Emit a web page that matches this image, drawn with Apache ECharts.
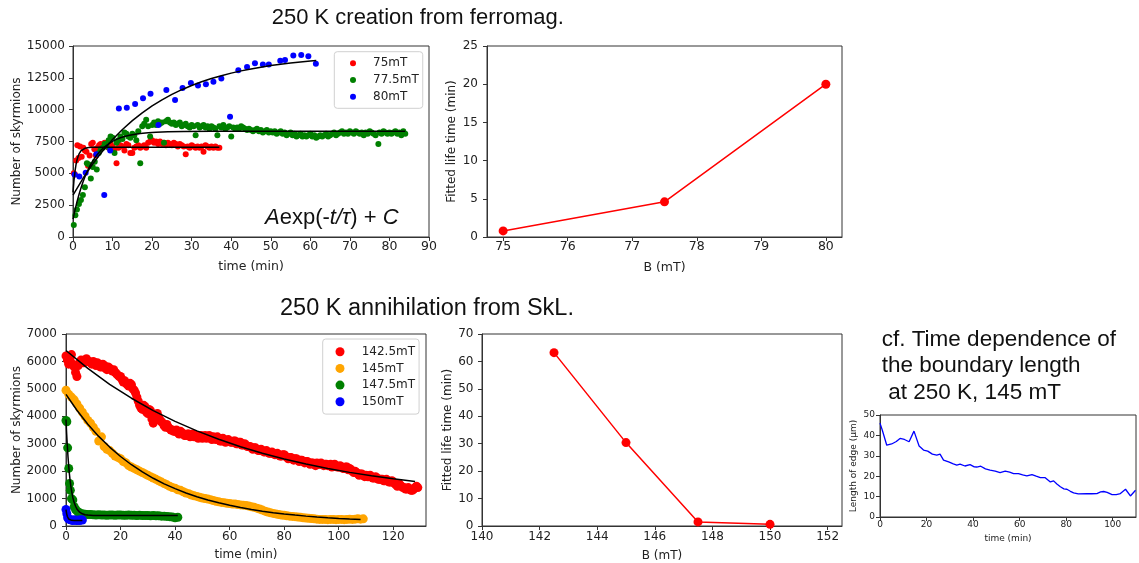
<!DOCTYPE html>
<html><head><meta charset="utf-8">
<script src="https://cdn.jsdelivr.net/npm/echarts@6/dist/echarts.min.js"></script>
<style>html,body{margin:0;padding:0;background:#fff}#c{width:1139px;height:563px}</style>
</head><body><div id="c"></div>
<script>
// ---------- Top-left: creation from ferromag. (time min, number of skyrmions) ----------
const c75 = [[0.2,5000],[0.5,4900],[0.8,6000],[1.1,7200],[1.4,6200],[1.8,7100],[2.2,6300],[2.6,7000],[3.0,6800],[3.4,6700],[3.8,5600],[4.2,6400],[4.6,7300],[5.0,7400],[5.4,6900],[5.8,6400],[6.2,7000],[6.6,7200],[7.0,7300],[7.5,7100],[8.0,7400],[8.5,7200],[9.0,7000],[9.5,7300],[10.0,7100],[10.5,6900],[11.0,5800],[11.5,7000],[12.0,7200],[12.5,7100],[13.0,6800],[13.5,7300],[14.0,7200],[14.5,6600],[15.0,6600],[15.5,7000],[16.0,7100],[16.5,7200],[17.0,7000],[17.5,7100],[18.0,7200],[18.5,7000],[19.0,7400],[19.5,7500],[20.0,7600],[20.5,7400],[21.0,7500],[21.5,7300],[22.0,7500],[22.5,7300],[23.0,7400],[23.5,7200],[24.0,7400],[24.5,7300],[25.0,7200],[25.5,7400],[26.0,7300],[26.5,7100],[27.0,7300],[27.5,7200],[28.0,7100],[28.5,6500],[29.0,7100],[29.5,7000],[30.0,7200],[30.5,7100],[31.0,7000],[31.5,7100],[32.0,7000],[32.5,7100],[33.0,6700],[33.5,7200],[34.0,7100],[34.5,7000],[35.0,7100],[35.5,7000],[36.0,7100],[36.5,7000],[37.0,7000]];
const c775 = [[0.2,950],[0.6,1700],[1.0,2150],[1.5,2600],[2.0,2900],[2.5,3300],[3.0,3900],[3.5,5800],[4.0,5700],[4.5,4600],[5.0,5500],[5.5,5900],[6.0,5300],[6.5,6600],[7.0,6900],[7.5,7000],[8.0,7300],[8.5,7100],[9.0,7600],[9.5,7900],[10.0,7800],[10.5,6600],[11.0,7400],[11.5,7600],[12.0,7900],[12.5,7700],[13.0,8200],[13.5,8100],[14.0,7900],[14.5,7800],[15.0,8100],[15.5,8000],[16.0,7600],[16.5,8300],[17.0,5800],[17.5,8700],[18.0,8900],[18.5,9200],[19.0,8700],[19.5,7900],[20.0,8800],
[20.5,9000],[21.0,8800],[21.5,9100],[22.0,8900],[22.5,9000],[23.0,7400],[23.5,9100],[24.0,9200],[24.5,9000],[25.0,8900],[25.5,9000],[26.0,8800],[26.5,8900],[27.0,9000],[27.5,8700],[28.0,8800],[28.5,8900],[29.0,8700],[29.5,8600],[30.0,8800],
[30.5,8700],[31.0,8000],[31.5,8800],[32.0,8600],[32.5,8700],[33.0,8800],[33.5,8600],[34.0,8700],[34.5,8500],[35.0,8700],[35.5,8600],[36.0,8500],[36.5,8000],[37.0,8700],[37.5,8600],[38.0,8800],[38.5,8500],[39.0,8600],[39.5,8700],[40.0,7900],
[40.5,8600],[41.0,8500],[41.5,8600],[42.0,8500],[42.5,8700],[43.0,8600],[43.5,8500],[44.0,8400],[44.5,8500],[45.0,8400],[45.5,8300],[46.0,8400],[46.5,8500],[47.0,8300],[47.5,8400],[48.0,8200],[48.5,8300],[49.0,8400],[49.5,8200],[50.0,8300],
[50.5,8200],[51.0,8300],[51.5,8100],[52.0,8200],[52.5,8300],[53.0,8100],[53.5,8200],[54.0,8000],[54.5,8100],[55.0,8200],[55.5,8000],[56.0,8100],[56.5,7900],[57.0,8000],[57.5,8100],[58.0,7900],[58.5,8000],[59.0,7900],[59.5,8000],[60.0,8100],
[60.5,7900],[61.0,8000],[61.5,7800],[62.0,7900],[62.5,8000],[63.0,7900],[63.5,8000],[64.0,8100],[64.5,7900],[65.0,8000],[65.5,8100],[66.0,8200],[66.5,8000],[67.0,8100],[67.5,8200],[68.0,8300],[68.5,8100],[69.0,8200],[69.5,8100],[70.0,8300],
[70.5,8200],[71.0,8100],[71.5,8300],[72.0,8200],[72.5,8100],[73.0,8200],[73.5,8000],[74.0,8200],[74.5,8100],[75.0,8300],[75.5,8200],[76.0,8100],[76.5,8000],[77.2,7300],[77.5,8200],[78.0,8100],[78.5,8300],[79.0,8200],[79.5,8100],[80.0,8200],
[80.5,8100],[81.0,8200],[81.5,8300],[82.0,8100],[82.5,8200],[83.0,8000],[83.5,8300],[84.0,8100]];
const c80 = [[0.4,4900],[1.6,4750],[3.2,5050],[5.9,6500],[7.9,3300],[9.4,6800],[11.6,10100],[13.6,10150],[15.7,10450],[17.7,10900],[19.6,11250],[21.6,8800],[23.6,11550],[25.8,10750],[27.7,11700],[29.8,12100],[31.6,11900],[33.6,12000],[35.5,12200],[37.5,12450],[39.7,9450],[41.8,13100],[44.0,13350],[46.0,13650],[48.0,13550],[49.5,13550],[52.4,13850],[53.6,13900],[55.7,14250],[57.7,14300],[59.5,14200],[61.4,13600]];
// fitted curves A exp(-t/tau) + C
const fit75 = [[0,3500],[0.25,4453],[0.5,5150],[0.75,5660],[1,6033],[1.25,6306],[1.5,6505],[1.75,6652],[2,6759],[2.5,6894],[3,6967],[3.5,7005],[4,7026],[5,7043],[6,7048],[37,7050]];
const fit775 = [[0,1400],[0.5,2111],[1,2748],[1.5,3320],[2,3834],[2.5,4293],[3,4706],[3.5,5076],[4,5408],[4.5,5706],[5,5973],[6,6428],[7,6794],[8,7088],[9,7324],[10,7515],[11,7669],[12,7792],[13,7891],[14,7971],[15,8035],[17,8129],[19,8189],[21,8228],[24,8263],[28,8284],[35,8297],[84,8300]];
const fit80 = [[0,3290],[2.5,4592],[5,5741],[7.5,6755],[10,7650],[12.5,8439],[15,9136],[17.5,9751],[20,10294],[22.5,10772],[25,11196],[27.5,11569],[30,11898],[32.5,12188],[35,12444],[37.5,12670],[40,12871],[42.5,13047],[45,13202],[47.5,13339],[50,13460],[52.5,13568],[55,13662],[57.5,13745],[60,13818],[61.5,13858]];

// ---------- Top-right: fitted life time vs B ----------
const topB = [75, 77.5, 80];
const topTau = [0.8, 4.6, 20.0];

// ---------- Bottom-left: annihilation from SkL. ----------
const a1425V = [6200,5900,6250,5800,5450,5950,6000,6050,6000,5950,6000,5850,5900,5800,5850,5700,5750,5650,5600,5500,5450,5250,5200,5100,5150,4950,4700,4400,4250,4350,4100,4200,3750,4050,3950,3800,3650,3700,3550,3500,3450,3400,3450,3350,3300,3350,3300,3250,3300,3250,3200,3300,3250,3200,3250,3150,3200,3100,3150,3100,3100,3050,3100,3000,3050,2950,2950,2900,2850,2850,2800,2750,2750,2700,2700,2650,2650,2600,2600,2550,2600,2500,2500,2450,2450,2400,2400,2350,2350,2300,2300,2250,2300,2250,2250,2250,2200,2250,2200,2200,2150,2150,2100,2150,2100,2000,2000,1900,1900,1850,1850,1800,1800,1750,1750,1700,1700,1650,1650,1600,1600,1500,1550,1450,1400,1350,1350,1300,1400,1400];
const a1425T = [0,1,2,3,4,5,6,7,8,9,10,11,12,13,14,15,16,17,18,19,20,21,22,23,24,25,26,27,28,29,30,31,32,33,34,35,36,37,38,39,40,41,42,43,44,45,46,47,48,49,50,51,52,53,54,55,56,57,58,59,60,61,62,63,64,65,66,67,68,69,70,71,72,73,74,75,76,77,78,79,80,81,82,83,84,85,86,87,88,89,90,91,92,93,94,95,96,97,98,99,100,101,102,103,104,105,106,107,108,109,110,111,112,113,114,115,116,117,118,119,120,121,122,123,124,125,126,127,128,129];
const a1425HV = [6050,6100,5900,5600,5850,6050,5950,6100,6000,5900,5950,5950,5800,5900,5750,5800,5700,5700,5550,5450,5350,5300,5150,5200,5000,4850,4550,4300,4400,4150,4250,3900,3950,4100,3850,3750,3600,3600,3500,3450,3500,3350,3400,3300,3350,3250,3350,3300,3200,3300,3250,3200,3300,3150,3200,3250,3100,3200,3050,3150,3050,3100,3000,3050,2950,3000,2900,2900,2800,2850,2750,2800,2700,2750,2650,2700,2600,2650,2550,2600,2550,2450,2500,2400,2450,2350,2400,2300,2350,2250,2300,2200,2250,2300,2200,2250,2200,2150,2250,2150,2200,2100,2150,2050,2050,1950,1950,1850,1900,1800,1800,1850,1750,1800,1700,1700,1650,1700,1600,1650,1550,1450,1500,1400,1350,1400,1300,1350,1450];
const a1425HT = [0.5,1.5,2.5,3.5,4.5,5.5,6.5,7.5,8.5,9.5,10.5,11.5,12.5,13.5,14.5,15.5,16.5,17.5,18.5,19.5,20.5,21.5,22.5,23.5,24.5,25.5,26.5,27.5,28.5,29.5,30.5,31.5,32.5,33.5,34.5,35.5,36.5,37.5,38.5,39.5,40.5,41.5,42.5,43.5,44.5,45.5,46.5,47.5,48.5,49.5,50.5,51.5,52.5,53.5,54.5,55.5,56.5,57.5,58.5,59.5,60.5,61.5,62.5,63.5,64.5,65.5,66.5,67.5,68.5,69.5,70.5,71.5,72.5,73.5,74.5,75.5,76.5,77.5,78.5,79.5,80.5,81.5,82.5,83.5,84.5,85.5,86.5,87.5,88.5,89.5,90.5,91.5,92.5,93.5,94.5,95.5,96.5,97.5,98.5,99.5,100.5,101.5,102.5,103.5,104.5,105.5,106.5,107.5,108.5,109.5,110.5,111.5,112.5,113.5,114.5,115.5,116.5,117.5,118.5,119.5,120.5,121.5,122.5,123.5,124.5,125.5,126.5,127.5,128.5];
const a145V = [4950,4800,4700,4600,4450,4300,4150,4000,3850,3750,3600,3450,3100,3250,2900,2800,2750,2650,2550,2500,2450,2350,2300,2200,2150,2100,2050,2000,1950,1900,1850,1800,1750,1700,1650,1600,1550,1500,1450,1400,1380,1320,1300,1250,1200,1180,1130,1100,1080,1050,1020,1000,980,960,930,900,880,860,850,830,820,800,800,780,770,760,750,730,700,680,650,620,580,540,510,480,460,440,420,400,390,370,360,350,340,330,320,300,290,280,270,260,250,240,240,240,230,240,240,230,240,240,230,240,250,240,250,260,250,260];
const a145T = [0,1,2,3,4,5,6,7,8,9,10,11,12,13,14,15,16,17,18,19,20,21,22,23,24,25,26,27,28,29,30,31,32,33,34,35,36,37,38,39,40,41,42,43,44,45,46,47,48,49,50,51,52,53,54,55,56,57,58,59,60,61,62,63,64,65,66,67,68,69,70,71,72,73,74,75,76,77,78,79,80,81,82,83,84,85,86,87,88,89,90,91,92,93,94,95,96,97,98,99,100,101,102,103,104,105,106,107,108,109];
const a1475 = [[0,3850],[0.3,3800],[0.6,2850],[1.0,2100],[1.3,1550],[1.6,1300],[2.0,1000],[2.5,950],[3.0,700],[3.5,600],[4.0,550],[4.5,500],[5,480],[6,450],[7,430],[8,420],[9,420],[10,410],[11,400],[12,410],[13,400],[14,400],[15,390],[16,400],[17,400],[18,390],[19,400],[20,400],[21,390],[22,390],[23,400],[24,390],[25,390],[26,380],[27,390],[28,380],[29,380],[30,380],[31,370],[32,380],[33,370],[34,370],[35,360],[36,360],[37,350],[38,340],[39,330],[40,300],[41,320]];
const a150 = [[0,600],[0.3,450],[0.6,300],[1,250],[1.5,230],[2,220],[2.5,200],[3,230],[3.5,210],[4,200],[4.5,220],[5,200],[5.5,230],[6,220]];
const fit1425 = [[0,6400],[8,5744],[16,5166],[24,4658],[32,4209],[40,3815],[48,3467],[56,3161],[64,2892],[72,2654],[80,2445],[88,2261],[96,2098],[104,1955],[112,1830],[120,1719],[128,1621]];
const fit145 = [[0,4800],[4,4220],[8,3712],[12,3267],[16,2877],[20,2534],[24,2234],[28,1971],[32,1740],[36,1538],[40,1361],[44,1205],[48,1069],[52,950],[56,845],[60,753],[64,673],[68,602],[72,540],[76,486],[80,438],[84,397],[88,360],[92,328],[96,300],[100,275],[104,254],[108,235]];
const fit1475 = [[0,3880],[0.25,3343],[0.5,2888],[0.75,2503],[1,2177],[1.25,1901],[1.5,1668],[1.75,1470],[2,1303],[2.5,1041],[3,854],[3.5,720],[4,623],[4.5,554],[5,505],[6,444],[7,413],[8,397],[10,384],[41,380]];
const fit150 = [[0,600],[0.25,443],[0.5,347],[0.75,289],[1,254],[1.5,220],[2,207],[3,201],[6,200]];

// ---------- Bottom-middle: fitted life time vs B ----------
const botB = [142.5, 145, 147.5, 150];
const botTau = [63.2, 30.4, 1.5, 0.6];

// ---------- Bottom-right: boundary length ----------
const edge = [[0,46],[1,42.5],[2.9,35.2],[5,35.8],[7,37],[8.6,38.5],[10.5,38],[12.5,36.9],[14.6,42.1],[16.8,34.8],[18.7,32.8],[20.5,32.3],[22.5,30.8],[24.4,30.3],[25.8,30.8],[27.3,27.9],[29.5,27],[31.5,26],[33,25.4],[34.4,25.9],[36.5,25],[38.7,25.7],[40.5,24.6],[41.6,24.5],[43.3,24.9],[45.3,23.6],[47.3,23],[49.5,22.5],[51.6,21.8],[53.8,22.5],[55.7,22],[57.4,21.3],[59.5,21.3],[61.3,20.7],[63.1,20.2],[65.3,20.8],[67.1,20],[68.9,19.3],[71,19.3],[73.2,17.2],[74.6,17.7],[76,16.2],[77.5,14.8],[79,13.8],[80.3,13.6],[81.8,12.6],[83.2,11.8],[85.2,11.3],[88.9,11.5],[91,11.4],[93.2,11.5],[94.8,12.3],[96.1,12.5],[97.6,12.1],[99.7,11],[101.5,11],[103.3,11.5],[105.5,13.6],[107.6,10.3],[109.8,13.1]];

// tick values
const ticksTL_x = [0,10,20,30,40,50,60,70,80,90];
const ticksTL_y = [0,2500,5000,7500,10000,12500,15000];
const ticksTR_x = [75,76,77,78,79,80];
const ticksTR_y = [0,5,10,15,20,25];
const ticksBL_x = [0,20,40,60,80,100,120];
const ticksBL_y = [0,1000,2000,3000,4000,5000,6000,7000];
const ticksBM_x = [140,142,144,146,148,150,152];
const ticksBM_y = [0,10,20,30,40,50,60,70];
const ticksBR_x = [0,20,40,60,80,100];
const ticksBR_y = [0,10,20,30,40,50];

const FONT = 'DejaVu Sans';
const TXT = '#222';
function ax(gi, min, max, ticks, name, fs, gap, margin) {
  return {
    type: 'value', gridIndex: gi, min: min, max: max,
    name: name, nameLocation: 'middle', nameGap: gap,
    nameTextStyle: {fontFamily: FONT, fontSize: fs, color: TXT},
    axisLine: {show: true, onZero: false, lineStyle: {color: '#333', width: 1}},
    axisTick: {show: true, length: 4, customValues: ticks, lineStyle: {color: '#333'}},
    axisLabel: {customValues: ticks, fontFamily: FONT, fontSize: fs, color: TXT, margin: margin,
      formatter: function (v) { return String(v); }},
    splitLine: {show: false}
  };
}
const pair = (T, V) => T.map((t, i) => [t, V[i]]);
const zip = (X, Y) => X.map((x, i) => [x, Y[i]]);

function sc(name, data, color, size, xi) {
  return {type: 'scatter', name: name, data: data, xAxisIndex: xi, yAxisIndex: xi, symbol: 'circle', symbolSize: size,
    itemStyle: {color: color, opacity: 1}, z: 2, silent: true};
}
function fit(name, data, xi) {
  return {type: 'line', name: name, data: data, xAxisIndex: xi, yAxisIndex: xi, showSymbol: false, smooth: false,
    lineStyle: {color: '#000', width: 1.5}, z: 5, silent: true};
}

const chart = echarts.init(document.getElementById('c'), null, {renderer: 'canvas'});
const grid = {show: true, borderColor: '#333', borderWidth: 1, backgroundColor: 'transparent'};
chart.setOption({
  animation: false,
  backgroundColor: '#fff',
  grid: [
    Object.assign({left: 73, top: 46, width: 356, height: 191}, grid),
    Object.assign({left: 487, top: 46, width: 355, height: 191}, grid),
    Object.assign({left: 66, top: 334, width: 360, height: 192}, grid),
    Object.assign({left: 482, top: 334, width: 360, height: 192}, grid),
    Object.assign({left: 880, top: 415, width: 256, height: 102}, grid)
  ],
  xAxis: [
    ax(0, 0, 90, ticksTL_x, 'time (min)', 12.5, 23, 3.5),
    ax(1, 74.75, 80.25, ticksTR_x, 'B (mT)', 12.5, 24, 3.5),
    ax(2, 0, 132, ticksBL_x, 'time (min)', 12, 23, 4.5),
    ax(3, 140, 152.5, ticksBM_x, 'B (mT)', 12, 24, 5),
    ax(4, 0, 110, ticksBR_x, 'time (min)', 9, 17, 3)
  ],
  yAxis: [
    ax(0, 0, 15000, ticksTL_y, 'Number of skyrmions', 12, 49, 8),
    ax(1, 0, 25, ticksTR_y, 'Fitted life time (min)', 12, 29, 9),
    ax(2, 0, 7000, ticksBL_y, 'Number of skyrmions', 12, 43, 9),
    ax(3, 0, 70, ticksBM_y, 'Fitted life time (min)', 12, 27, 8.5),
    ax(4, 0, 50, ticksBR_y, 'Length of edge (μm)', 9, 22, 5)
  ],
  legend: [
    {data: ['75mT', '77.5mT', '80mT'], orient: 'vertical', left: 334.3, top: 51.7,
     padding: [5.6, 4, 5.6, 15.7], itemWidth: 30, itemHeight: 6, itemGap: 4.7, icon: 'circle',
     textStyle: {fontFamily: FONT, fontSize: 12, lineHeight: 12, color: TXT},
     borderColor: '#d0d0d0', borderWidth: 1, borderRadius: 3, backgroundColor: 'rgba(255,255,255,0.8)', selectedMode: false},
    {data: ['142.5mT', '145mT', '147.5mT', '150mT'], orient: 'vertical', left: 322.7, top: 339,
     padding: [6.7, 4, 6.3, 12.8], itemWidth: 33.4, itemHeight: 9, itemGap: 4.7, icon: 'circle',
     textStyle: {fontFamily: FONT, fontSize: 12, lineHeight: 12, color: TXT},
     borderColor: '#d0d0d0', borderWidth: 1, borderRadius: 3, backgroundColor: 'rgba(255,255,255,0.8)', selectedMode: false}
  ],
  series: [
    sc('75mT', c75, '#ff0000', 6, 0),
    sc('77.5mT', c775, '#008000', 6, 0),
    sc('80mT', c80, '#0000ff', 6, 0),
    fit('fit75', fit75, 0), fit('fit775', fit775, 0), fit('fit80', fit80, 0),
    {type: 'line', name: 'tauTop', data: zip(topB, topTau), xAxisIndex: 1, yAxisIndex: 1, symbol: 'circle', symbolSize: 9, showSymbol: true,
     lineStyle: {color: '#ff0000', width: 1.5}, itemStyle: {color: '#ff0000', borderWidth: 0}, silent: true},
    sc('142.5mT', pair(a1425T, a1425V).concat(pair(a1425HT, a1425HV)), '#ff0000', 9, 2),
    sc('145mT', pair(a145T, a145V), '#ffa500', 9, 2),
    sc('147.5mT', a1475, '#008000', 9, 2),
    sc('150mT', a150, '#0000ff', 9, 2),
    fit('fit1425', fit1425, 2), fit('fit145', fit145, 2), fit('fit1475', fit1475, 2), fit('fit150', fit150, 2),
    {type: 'line', name: 'tauBot', data: zip(botB, botTau), xAxisIndex: 3, yAxisIndex: 3, symbol: 'circle', symbolSize: 9, showSymbol: true,
     lineStyle: {color: '#ff0000', width: 1.5}, itemStyle: {color: '#ff0000', borderWidth: 0}, silent: true},
    {type: 'line', name: 'edge', data: edge, xAxisIndex: 4, yAxisIndex: 4, showSymbol: false,
     lineStyle: {color: '#0000ff', width: 1.3}, silent: true}
  ],
  graphic: [
    {type: 'text', x: 271.7, y: 18.2, style: {text: '250 K creation from ferromag.', fontFamily: 'Liberation Sans', fontSize: 22, fill: '#111', align: 'left', verticalAlign: 'middle'}},
    {type: 'text', x: 280, y: 308.4, style: {text: '250 K annihilation from SkL.', fontFamily: 'Liberation Sans', fontSize: 23.5, fill: '#111', align: 'left', verticalAlign: 'middle'}},
    {type: 'text', x: 881.7, y: 339.3, style: {text: 'cf. Time dependence of', fontFamily: 'Liberation Sans', fontSize: 22.5, fill: '#111', align: 'left', verticalAlign: 'middle'}},
    {type: 'text', x: 881.7, y: 366, style: {text: 'the boundary length', fontFamily: 'Liberation Sans', fontSize: 22.5, fill: '#111', align: 'left', verticalAlign: 'middle'}},
    {type: 'text', x: 888.3, y: 392.6, style: {text: 'at 250 K, 145 mT', fontFamily: 'Liberation Sans', fontSize: 22.5, fill: '#111', align: 'left', verticalAlign: 'middle'}},
    {type: 'text', x: 265, y: 217.7, z: 10, style: {
      text: '{i|A}{n|exp(-}{i|t/τ}{n|) + }{i|C}', align: 'left', verticalAlign: 'middle',
      rich: {i: {fontFamily: 'Liberation Sans', fontSize: 22, fontStyle: 'italic', fill: '#111'},
             n: {fontFamily: 'Liberation Sans', fontSize: 22, fill: '#111'}}}}
  ]
});
</script>
</body></html>
